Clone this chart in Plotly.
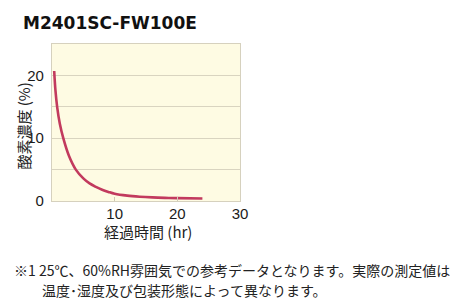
import plotly.graph_objects as go

# Data
hours = [0.35, 0.55, 0.82, 1.25, 1.8, 2.7, 3.8, 5, 6, 7, 8, 9, 10, 12, 14, 16, 18, 20, 24]
oxygen = [20.7, 17.6, 15.0, 12.3, 10.0, 7.2, 5.0, 3.6, 2.8, 2.25, 1.8, 1.45, 1.15, 0.85, 0.68, 0.57, 0.5, 0.46, 0.4]

x_tickvals = [10, 20, 30]
x_ticktext = ["10", "20", "30"]
y_tickvals = [0, 5, 10, 15, 20, 25]
y_ticktext = ["0", "", "10", "", "20", ""]

title_text = "M2401SC-FW100E"
x_title = "経過時間 (hr)"
y_title = "酸素濃度 (%)"
note_line1 = "※1 25℃、60%RH雰囲気での参考データとなります。実際の測定値は"
note_line2 = "温度･湿度及び包装形態によって異なります。"

W, H = 460, 303
L, R, T, B = 51.5, 240, 44, 201
pw, ph = R - L, B - T


def px(x):
    return (x - L) / pw


def py(y):
    return (B - y) / ph


fig = go.Figure()
fig.add_trace(go.Scatter(
    x=hours, y=oxygen, mode="lines",
    line=dict(color="#C23A5E", width=2.6, shape="spline", smoothing=1.0),
    hoverinfo="skip", showlegend=False,
))

axis_font = dict(family="Liberation Sans, Arial, sans-serif", size=15, color="#1a1a1a")
cjk = "Noto Sans CJK JP, sans-serif"

fig.update_layout(
    width=W, height=H,
    margin=dict(l=L, r=W - R, t=T, b=H - B, pad=0),
    paper_bgcolor="white",
    plot_bgcolor="#FEFBE3",
    showlegend=False,
    xaxis=dict(
        range=[0, 30], tickvals=x_tickvals, ticktext=x_ticktext,
        showgrid=False, zeroline=False,
        ticks="inside", ticklen=4, tickcolor="#CFCAB6", tickwidth=1,
        showline=True, linecolor="#D6D1BE", linewidth=1.2, mirror=True,
        tickfont=axis_font, ticklabelstandoff=-1,
    ),
    yaxis=dict(
        range=[0, 25], tickvals=y_tickvals, ticktext=y_ticktext,
        showgrid=True, gridcolor="#D9D4C0", gridwidth=1, zeroline=False,
        ticks="", showline=True, linecolor="#D6D1BE", linewidth=1.2, mirror=True,
        tickfont=axis_font, ticklabelstandoff=4,
    ),
)

annotations = [
    dict(text="<b>" + title_text + "</b>", x=px(20), y=py(23), xanchor="left", yanchor="middle",
         font=dict(family="DejaVu Sans, Verdana, sans-serif", size=17, color="#111111")),
    dict(text=x_title, x=px(148), y=py(231), xanchor="center", yanchor="middle",
         font=dict(family=cjk, size=15, color="#222222")),
    dict(text=y_title, x=px(22), y=py(126), xanchor="center", yanchor="middle", textangle=-90,
         font=dict(family=cjk, size=15, color="#222222")),
    dict(text=note_line1, x=px(11), y=py(270), xanchor="left", yanchor="middle",
         font=dict(family=cjk, size=14, color="#222222")),
    dict(text=note_line2, x=px(39), y=py(290), xanchor="left", yanchor="middle",
         font=dict(family=cjk, size=14, color="#222222")),
]
for a in annotations:
    a.update(xref="paper", yref="paper", showarrow=False)
fig.update_layout(annotations=annotations)

fig.write_html("out.html")
